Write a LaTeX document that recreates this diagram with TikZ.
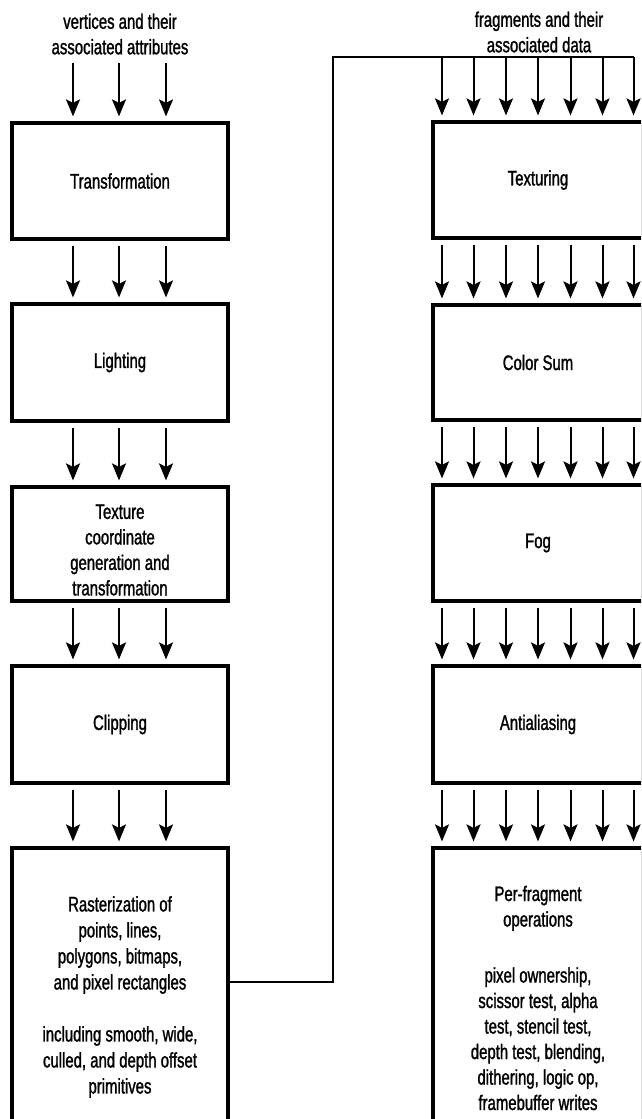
\documentclass[tikz,border=0pt]{standalone}
\usepackage{fontspec}
\setmainfont[FakeStretch=0.71, FakeBold=1.3]{Liberation Sans}
\usetikzlibrary{arrows.meta}
\begin{document}
\begin{tikzpicture}[x=1pt,y=-1pt,
  txt/.style={font=\fontsize{21}{25.5}\selectfont, align=center, inner sep=0pt},
  lbox/.style={draw, line width=3.2pt, txt, minimum width=216pt},
  rbox/.style={draw, line width=3.2pt, txt, minimum width=210pt},
  arr/.style={line width=2pt, -{Stealth[length=17pt,width=14pt,inset=3.5pt]}},
  conn/.style={line width=2.4pt}
]
\useasboundingbox (0,0) rectangle (641,1119);
\clip (0,0) rectangle (641,1119);

% left column
\node[lbox, minimum height=116pt] (T) at (120,181) {Transformation};
\node[lbox, minimum height=117pt] (L) at (120,362.5) {Lighting};
\node[lbox, minimum height=114pt] (X) at (120,544) {};
\node[txt] (Xt) at (120,550) {Texture\\coordinate\\generation and\\transformation};
\node[lbox, minimum height=117pt] (C) at (120,724.5) {Clipping};
\node[lbox, minimum height=296pt] (R) at (120,996) {};
\node[txt, font=\fontsize{21}{26}\selectfont] (Rt) at (120,997) {Rasterization of\\points, lines,\\polygons, bitmaps,\\and pixel rectangles\\[26pt]including smooth, wide,\\culled, and depth offset\\primitives};

% right column
\node[rbox, minimum height=116pt] (Tx) at (538,180) {Texturing};
\node[rbox, minimum height=115pt] (CS) at (538,362.5) {Color Sum};
\node[rbox, minimum height=116pt] (F) at (538,543) {Fog};
\node[rbox, minimum height=117pt] (A) at (538,724.5) {Antialiasing};
\node[rbox, minimum height=296pt] (P) at (538,996) {};
\node[txt] (Pt) at (538,998) {Per-fragment\\operations\\[30.5pt]pixel ownership,\\scissor test, alpha\\test, stencil test,\\depth test, blending,\\dithering, logic op,\\framebuffer writes};

% labels
\node[txt] (vlab) at (120,34) {vertices and their\\associated attributes};
\node[txt] (flab) at (539,32) {fragments and their\\associated data};

% input arrows (left)
\coordinate (vin) at (120,63);
\foreach \dx in {-47,-1,46} {
  \draw[arr] ([xshift=\dx pt]vin) -- ([xshift=\dx pt, yshift=5pt]T.north);
}
% left column arrows
\foreach \a/\b in {T/L, L/X, X/C, C/R} {
  \foreach \dx in {-47,-1,46} {
    \draw[arr] ([xshift=\dx pt, yshift=-5pt]\a.south) -- ([xshift=\dx pt, yshift=5pt]\b.north);
  }
}

% connector from rasterization to fragment stage
\coordinate (bend) at (333,57);
\coordinate (fline) at (538,57);
\coordinate (fend) at (634,57);
\draw[conn] ([yshift=14pt]R.east) -| (bend) -- (fend);

% right input arrows
\foreach \dx in {-96,-64.5,-32,0,32.5,64.5,95.5} {
  \draw[arr] ([xshift=\dx pt]fline) -- ([xshift=\dx pt, yshift=5pt]Tx.north);
}
% right column arrows
\foreach \a/\b in {Tx/CS, CS/F, F/A, A/P} {
  \foreach \dx in {-96,-64.5,-32,0,32.5,64.5,95.5} {
    \draw[arr] ([xshift=\dx pt, yshift=-5pt]\a.south) -- ([xshift=\dx pt, yshift=5pt]\b.north);
  }
}
\end{tikzpicture}
\end{document}
